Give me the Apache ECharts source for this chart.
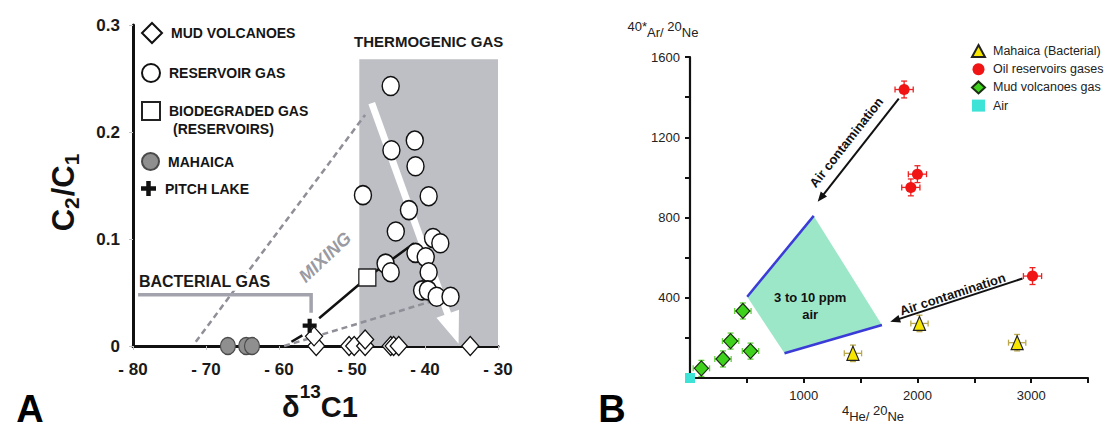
<!DOCTYPE html>
<html><head><meta charset="utf-8">
<script src="https://cdn.jsdelivr.net/npm/echarts@6/dist/echarts.min.js"></script>
<style>html,body{margin:0;padding:0;background:#fff}#c{width:1108px;height:429px}</style>
</head><body><div id="c"></div>
<script>
// ---------------- Panel A (C2/C1 vs d13C1) ----------------
const xTicksA = [-80, -70, -60, -50, -40, -30];
const yTicksA = [0, 0.1, 0.2, 0.3];
const mudVolcanoesA = [[-54.9,0],[-55.2,0.009],[-50.4,0],[-49.7,0],[-48.2,0],[-48.2,0.006],[-44.7,0],[-44.3,0],[-43.6,0],[-33.8,0]];
const reservoirGasA = [[-44.7,0.243],[-41.4,0.192],[-44.6,0.183],[-41.3,0.168],[-48.5,0.141],[-39.5,0.140],[-42.2,0.127],[-44.0,0.107],[-38.9,0.101],[-37.9,0.096],[-45.4,0.077],[-44.7,0.069],[-41.3,0.087],[-39.9,0.083],[-39.5,0.069],[-40.4,0.052],[-39.6,0.052],[-38.4,0.046],[-36.5,0.046]];
const biodegradedGasA = [[-47.9,0.064]];
const mahaicaA = [[-67.0,0],[-64.5,0],[-63.7,0]];
const pitchLakeA = [[-55.8,0.019]];
// annotation geometry, data units
const thermogenicBox = [[-49,0.268],[-30,0]];
const bacterialBracket = [[-79.3,0.048],[-55.6,0.048],[-55.6,0.031]];
const mixingLineUpper = [[-71.4,0.004],[-48.2,0.216]];
const mixingLineLower = [[-59.3,0.0],[-38.5,0.043]];
const biodegTrendDashed = [[-58.3,0.004],[-56.8,0.010]];
const biodegTrendSolid = [[-54.5,0.026],[-47.9,0.064],[-41.5,0.096]];
const maturationArrow = [[-47.3,0.227],[-35.4,0.002]];
const thermoLabelPos = [-39.5, 0.285];
const bacterialLabelPos = [-70.2, 0.060];
const mixingLabelPos = [-53.7, 0.083];

// ---------------- Panel B (40Ar/20Ne vs 4He/20Ne) ----------------
const xTicksB = [0, 500, 1000, 1500, 2000, 2500, 3000, 3500];
const xLabelsB = [1000, 2000, 3000];
const yTicksB = [0, 200, 400, 600, 800, 1000, 1200, 1400, 1600];
const yLabelsB = [400, 800, 1200, 1600];
const mahaicaB = [[1433,123],[2018,272],[2877,176]];
const mahaicaErrB = [[76,41],[76,41],[76,41]];
const oilB = [[1883,1438],[2000,1016],[1942,950],[3012,508]];
const oilErrB = [[80,42],[80,42],[80,42],[80,42]];
const mudB = [[100,48],[290,95],[357,184],[532,134],[465,334]];
const mudErrB = [[72,40],[72,40],[72,40],[72,40],[72,40]];
const airB = [[0,0]];
const airZone = [[503,405],[1088,808],[1688,264],[831,123]];
const airZoneEdgeUpper = [[503,405],[1088,808]];
const airZoneEdgeLower = [[831,123],[1688,264]];
const contamArrow1 = [[1836,1392],[1123,878]];
const contamArrow2 = [[2924,496],[1761,280]];
const airZoneLabelPos = [1057, 358];
const contamLabel1Pos = [1375, 1175];
const contamLabel2Pos = [2309, 418];

const FONT = '"Liberation Sans", Arial, sans-serif';
const chart = echarts.init(document.getElementById('c'), null, {renderer: 'svg', width: 1108, height: 429});

function arrowShapes(p0, p1, width, headLen, headHalf, color) {
  const dx = p1[0]-p0[0], dy = p1[1]-p0[1];
  const L = Math.hypot(dx, dy), ux = dx/L, uy = dy/L, nx = -uy, ny = ux;
  const bx = p1[0]-ux*headLen, by = p1[1]-uy*headLen;
  return [
    {type:'line', shape:{x1:p0[0], y1:p0[1], x2:bx+ux*2, y2:by+uy*2}, style:{stroke:color, lineWidth:width}},
    {type:'polygon', shape:{points:[[p1[0],p1[1]],[bx+nx*headHalf,by+ny*headHalf],[bx-nx*headHalf,by-ny*headHalf]]}, style:{fill:color}}
  ];
}
function txt(p, text, font, color, rot, extra) {
  return Object.assign({type:'text', x:p[0], y:p[1], rotation:rot||0,
    style:Object.assign({text:text, font:font, fill:color, align:'center', verticalAlign:'middle', textAlign:'center', textVerticalAlign:'middle'}, extra||{})});
}
function line(pts, stroke, w, dash) {
  return {type:'polyline', shape:{points:pts}, style:{stroke:stroke, lineWidth:w, lineDash:dash||null, fill:'none'}};
}

function renderAnnotA(params, api) {
  const c = p => api.coord(p);
  const k = [];
  const b0 = c(thermogenicBox[0]), b1 = c(thermogenicBox[1]);
  k.push({type:'rect', shape:{x:b0[0], y:b0[1], width:b1[0]-b0[0], height:b1[1]-b0[1]}, style:{fill:'#bdbfc5'}});
  k.push(...arrowShapes(c(maturationArrow[0]), c(maturationArrow[1]), 7, 32, 12, '#ffffff'));
  k.push(line(mixingLineUpper.map(c), '#8f8f97', 2.5, [6,4]));
  k.push(line(mixingLineLower.map(c), '#8f8f97', 2.5, [6,4]));
  k.push(line(bacterialBracket.map(c), '#a3a3ad', 3.5));
  k.push(line(biodegTrendDashed.map(c), '#111', 2.5));
  k.push(line(biodegTrendSolid.map(c), '#111', 2.5));
  k.push(txt(c(thermoLabelPos), 'THERMOGENIC GAS', 'bold 15px ' + FONT, '#1a1a1a'));
  k.push(txt(c(bacterialLabelPos), 'BACTERIAL GAS', 'bold 16px ' + FONT, '#1a1a1a', 0, {backgroundColor:'#fff', padding:[1,2]}));
  k.push(txt(c(mixingLabelPos), 'MIXING', 'italic bold 18px ' + FONT, '#9a9aa2', 43*Math.PI/180));
  return {type:'group', children:k};
}
function renderAnnotB(params, api) {
  const c = p => api.coord(p);
  const k = [];
  k.push({type:'polygon', shape:{points:airZone.map(c)}, style:{fill:'#9de7c9'}});
  k.push(line(airZoneEdgeUpper.map(c), '#3b3bd8', 2.5));
  k.push(line(airZoneEdgeLower.map(c), '#3b3bd8', 2.5));
  const a1 = contamArrow1.map(c), a2 = contamArrow2.map(c);
  k.push(...arrowShapes(a1[0], a1[1], 2, 10, 4, '#111'));
  k.push(...arrowShapes(a2[0], a2[1], 2, 10, 4, '#111'));
  const r1 = Math.atan2(a1[1][1]-a1[0][1], a1[0][0]-a1[1][0]);
  const r2 = Math.atan2(a2[1][1]-a2[0][1], a2[0][0]-a2[1][0]);
  k.push(txt(c(contamLabel1Pos), 'Air contamination', 'bold 13px ' + FONT, '#111', r1));
  k.push(txt(c(contamLabel2Pos), 'Air contamination', 'bold 13px ' + FONT, '#111', r2));
  k.push(txt(c(airZoneLabelPos), '3 to 10 ppm\nair', 'bold 13px ' + FONT, '#111', 0, {lineHeight:17}));
  return {type:'group', children:k};
}
function errRender(color) {
  return function (params, api) {
    const x = api.value(0), y = api.value(1), ex = api.value(2), ey = api.value(3);
    const l = api.coord([x-ex, y]), r = api.coord([x+ex, y]), t = api.coord([x, y+ey]), b = api.coord([x, y-ey]);
    const cap = 3, st = {stroke:color, lineWidth:1.3};
    return {type:'group', children:[
      {type:'line', shape:{x1:l[0], y1:l[1], x2:r[0], y2:r[1]}, style:st},
      {type:'line', shape:{x1:t[0], y1:t[1], x2:b[0], y2:b[1]}, style:st},
      {type:'line', shape:{x1:l[0], y1:l[1]-cap, x2:l[0], y2:l[1]+cap}, style:st},
      {type:'line', shape:{x1:r[0], y1:r[1]-cap, x2:r[0], y2:r[1]+cap}, style:st},
      {type:'line', shape:{x1:t[0]-cap, y1:t[1], x2:t[0]+cap, y2:t[1]}, style:st},
      {type:'line', shape:{x1:b[0]-cap, y1:b[1], x2:b[0]+cap, y2:b[1]}, style:st}
    ]};
  };
}
const withErr = (pts, err) => pts.map((p, i) => [p[0], p[1], err[i][0], err[i][1]]);

const ELLIPSE = 'path://M50,0A50,50,0,1,1,50,100A50,50,0,1,1,50,0Z';
const CROSS = 'path://M3.5,0H6.5V3.5H10V6.5H6.5V10H3.5V6.5H0V3.5H3.5Z';

const legA = (name, top, w, h) => ({data:[name], left:141, top:top, itemWidth:w, itemHeight:h, selectedMode:false, padding:0,
  textStyle:{fontFamily:FONT, fontWeight:'bold', fontSize:14, color:'#151515', padding:[0,0,0,4]}});

const option = {
  backgroundColor:'#fff',
  animation:false,
  grid:[
    {left:133, top:25, width:365, height:321},
    {left:690, top:57, width:398, height:321}
  ],
  xAxis:[
    {gridIndex:0, type:'value', min:xTicksA[0], max:xTicksA[xTicksA.length-1], interval:xTicksA[1]-xTicksA[0],
     splitLine:{show:false},
     axisLine:{lineStyle:{color:'#111', width:3}},
     axisTick:{length:4, lineStyle:{color:'#c4c4c4', width:1}},
     axisLabel:{formatter:v => '- ' + Math.abs(v), fontFamily:FONT, fontWeight:'bold', fontSize:17, color:'#1a1a1a', margin:15}},
    {gridIndex:1, type:'value', min:xTicksB[0], max:xTicksB[xTicksB.length-1], interval:xTicksB[1]-xTicksB[0],
     splitLine:{show:false},
     axisLine:{lineStyle:{color:'#111', width:2.2}},
     axisTick:{length:5, lineStyle:{color:'#111', width:2}},
     axisLabel:{formatter:v => xLabelsB.includes(v) ? String(v) : '', fontFamily:FONT, fontSize:13, color:'#222', margin:11}}
  ],
  yAxis:[
    {gridIndex:0, type:'value', min:yTicksA[0], max:yTicksA[yTicksA.length-1], interval:yTicksA[1]-yTicksA[0],
     splitLine:{show:false},
     axisLine:{show:true, lineStyle:{color:'#111', width:3}},
     axisTick:{show:true, length:4, lineStyle:{color:'#c4c4c4', width:1}},
     axisLabel:{formatter:v => v === 0 ? '0' : v.toFixed(1), fontFamily:FONT, fontWeight:'bold', fontSize:17, color:'#1a1a1a', margin:13}},
    {gridIndex:1, type:'value', min:yTicksB[0], max:yTicksB[yTicksB.length-1], interval:yTicksB[1]-yTicksB[0],
     splitLine:{show:false},
     axisLine:{show:true, lineStyle:{color:'#111', width:2.2}},
     axisTick:{show:true, length:5, lineStyle:{color:'#111', width:2}},
     axisLabel:{formatter:v => yLabelsB.includes(v) ? String(v) : '', fontFamily:FONT, fontSize:13, color:'#222', margin:10}}
  ],
  legend:[
    legA('MUD VOLCANOES', 22, 20, 20),
    legA('RESERVOIR GAS', 63, 18, 20),
    Object.assign(legA('BIODEGRADED GAS (RESERVOIRS)', 101, 18, 18), {formatter:() => 'BIODEGRADED GAS'}),
    legA('MAHAICA', 152, 17, 19),
    legA('PITCH LAKE', 181, 15, 15),
    {data:['Mahaica (Bacterial)', 'Oil reservoirs gases', 'Mud volcanoes gas', 'Air'], orient:'vertical', left:971, top:44, padding:0,
     itemWidth:13, itemHeight:12, itemGap:4.7, selectedMode:false,
     textStyle:{fontFamily:FONT, fontSize:12.5, color:'#222', lineHeight:12, padding:[0,0,0,3]}}
  ],
  graphic:[
    {type:'text', x:173, y:129, style:{text:'(RESERVOIRS)', font:'bold 14px ' + FONT, fill:'#151515', textVerticalAlign:'middle', verticalAlign:'middle'}},
    {type:'text', x:63, y:192, rotation:Math.PI/2,
     style:{text:'{b|C}{s|2}{b|/C}{s|1}', fill:'#111', align:'center', verticalAlign:'middle', textAlign:'center', textVerticalAlign:'middle',
       rich:{b:{fontFamily:FONT, fontWeight:'bold', fontSize:31, lineHeight:32, fill:'#111'},
             s:{fontFamily:FONT, fontWeight:'bold', fontSize:21, lineHeight:21, padding:[16,1,0,0], fill:'#111'}}}},
    {type:'text', x:320, y:402,
     style:{text:'{b|δ}{s|13}{b|C1}', fill:'#111', align:'center', verticalAlign:'middle', textAlign:'center', textVerticalAlign:'middle',
       rich:{b:{fontFamily:FONT, fontWeight:'bold', fontSize:29, lineHeight:30, padding:[10,0,0,0], fill:'#111'},
             s:{fontFamily:FONT, fontWeight:'bold', fontSize:19, lineHeight:19, padding:[0,0,21,0], fill:'#111'}}}},
    {type:'text', x:30, y:409, style:{text:'A', font:'bold 38px ' + FONT, fill:'#000', align:'center', verticalAlign:'middle', textAlign:'center', textVerticalAlign:'middle'}},
    {type:'text', x:612, y:409, style:{text:'B', font:'bold 38px ' + FONT, fill:'#000', align:'center', verticalAlign:'middle', textAlign:'center', textVerticalAlign:'middle'}},
    {type:'text', x:663, y:29,
     style:{text:'{u|40*}{d|Ar}{d|/ }{u|20}{d|Ne}', fill:'#222', align:'center', verticalAlign:'middle', textAlign:'center', textVerticalAlign:'middle',
       rich:{u:{fontFamily:FONT, fontSize:13, lineHeight:13, padding:[0,0,6,0], fill:'#222'},
             d:{fontFamily:FONT, fontSize:13, lineHeight:13, padding:[6,0,0,0], fill:'#222'}}}},
    {type:'text', x:873, y:413,
     style:{text:'{u|4}{d|He/ }{u|20}{d|Ne}', fill:'#222', align:'center', verticalAlign:'middle', textAlign:'center', textVerticalAlign:'middle',
       rich:{u:{fontFamily:FONT, fontSize:13, lineHeight:13, padding:[0,0,6,0], fill:'#222'},
             d:{fontFamily:FONT, fontSize:13, lineHeight:13, padding:[6,0,0,0], fill:'#222'}}}}
  ],
  series:[
    {type:'custom', xAxisIndex:0, yAxisIndex:0, data:[[-60,0]], renderItem:renderAnnotA, z:1, silent:true, clip:false},
    {name:'MAHAICA', type:'scatter', xAxisIndex:0, yAxisIndex:0, data:mahaicaA, symbol:ELLIPSE, symbolSize:[15,17], clip:false, z:3,
     itemStyle:{color:'#8f8f8f', borderColor:'#4a4a4a', borderWidth:1.2, opacity:1}},
    {name:'MUD VOLCANOES', type:'scatter', xAxisIndex:0, yAxisIndex:0, data:mudVolcanoesA, symbol:'diamond', symbolSize:[17,19], clip:false, z:3,
     itemStyle:{color:'#fff', borderColor:'#111', borderWidth:1.3, opacity:1}},
    {name:'PITCH LAKE', type:'scatter', xAxisIndex:0, yAxisIndex:0, data:pitchLakeA, symbol:CROSS, symbolSize:14, clip:false, z:3,
     itemStyle:{color:'#111', opacity:1}},
    {name:'BIODEGRADED GAS (RESERVOIRS)', type:'scatter', xAxisIndex:0, yAxisIndex:0, data:biodegradedGasA, symbol:'rect', symbolSize:17, clip:false, z:3,
     itemStyle:{color:'#fff', borderColor:'#222', borderWidth:1.3, opacity:1}},
    {name:'RESERVOIR GAS', type:'scatter', xAxisIndex:0, yAxisIndex:0, data:reservoirGasA, symbol:ELLIPSE, symbolSize:[17,19], clip:false, z:4,
     itemStyle:{color:'#fff', borderColor:'#111', borderWidth:1.5, opacity:1}},

    {type:'custom', xAxisIndex:1, yAxisIndex:1, data:[[1000,400]], renderItem:renderAnnotB, z:1, silent:true, clip:false},
    {type:'custom', xAxisIndex:1, yAxisIndex:1, data:withErr(mahaicaB, mahaicaErrB), renderItem:errRender('#b9a94c'), z:2, silent:true, clip:false},
    {type:'custom', xAxisIndex:1, yAxisIndex:1, data:withErr(oilB, oilErrB), renderItem:errRender('#ee2222'), z:2, silent:true, clip:false},
    {type:'custom', xAxisIndex:1, yAxisIndex:1, data:withErr(mudB, mudErrB), renderItem:errRender('#5fd437'), z:2, silent:true, clip:false},
    {name:'Mahaica (Bacterial)', type:'scatter', xAxisIndex:1, yAxisIndex:1, data:mahaicaB, symbol:'triangle', symbolSize:[12,14], clip:false, z:3,
     itemStyle:{color:'#f7e600', borderColor:'#222', borderWidth:1.2, opacity:1}},
    {name:'Oil reservoirs gases', type:'scatter', xAxisIndex:1, yAxisIndex:1, data:oilB, symbol:'circle', symbolSize:11, clip:false, z:3,
     itemStyle:{color:'#f01414', opacity:1}},
    {name:'Mud volcanoes gas', type:'scatter', xAxisIndex:1, yAxisIndex:1, data:mudB, symbol:'diamond', symbolSize:[14,15], clip:false, z:3,
     itemStyle:{color:'#3fd21c', borderColor:'#1b2e12', borderWidth:1.2, opacity:1}},
    {name:'Air', type:'scatter', xAxisIndex:1, yAxisIndex:1, data:airB, symbol:'rect', symbolSize:10, clip:false, z:5,
     itemStyle:{color:'#3de3d6', opacity:1}}
  ]
};
chart.setOption(option);
</script>
</body></html>
